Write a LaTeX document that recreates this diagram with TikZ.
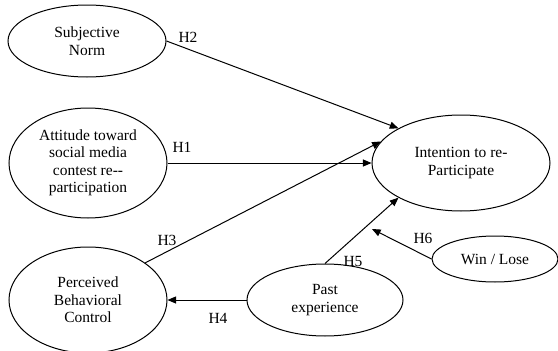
\documentclass[tikz,border=0pt]{standalone}
\usepackage{fontspec}
\setmainfont{Liberation Serif}
\usepackage{tikz}
\usetikzlibrary{arrows}
\usetikzlibrary{shapes.geometric}

\begin{document}
\begin{tikzpicture}[x=1pt,y=-1pt,
    var/.style={ellipse,draw,line width=1pt,inner sep=0pt,align=center,
      font=\fontsize{15.5}{17.5}\selectfont},
    hyp/.style={line width=1pt,-triangle 45},
    lbl/.style={font=\fontsize{15.5}{17.5}\selectfont}]
    \useasboundingbox (0,0) rectangle (558,351);
    % constructs
    \node[var,minimum width=158,minimum height=72] (sn) at (87,41) {Subjective\\Norm};
    \node[var,minimum width=158,minimum height=110] (att) at (88,163)
      {Attitude toward\\social media\\contest re-\kern0pt-\\participation};
    \node[var,minimum width=178,minimum height=96] (int) at (461,163) {Intention to re-\\Participate};
    \node[var,minimum width=158,minimum height=106] (pbc) at (88,300) {Perceived\\Behavioral\\Control};
    \node[var,minimum width=156,minimum height=72] (past) at (325,300) {Past\\experience};
    \node[var,minimum width=126,minimum height=46] (win) at (495,259) {Win / Lose};
    \coordinate (mod) at (372,229);
    % hypotheses
    \draw[hyp] (sn.east) -- (int.151);
    \node[lbl] at (188,37) {H2};
    \draw[hyp] (att.east) -- (int.west);
    \node[lbl] at (182,147) {H1};
    \draw[hyp] (pbc.33) -- (int.165);
    \node[lbl] at (167,240) {H3};
    \draw[hyp] (past.west) -- (pbc.east);
    \node[lbl] at (218,318) {H4};
    \draw[hyp] (past.north) -- (int.209);
    \node[lbl] at (353,261) {H5};
    \draw[hyp] (win.west) -- (mod);
    \node[lbl] at (423,238) {H6};
\end{tikzpicture}
\end{document}
